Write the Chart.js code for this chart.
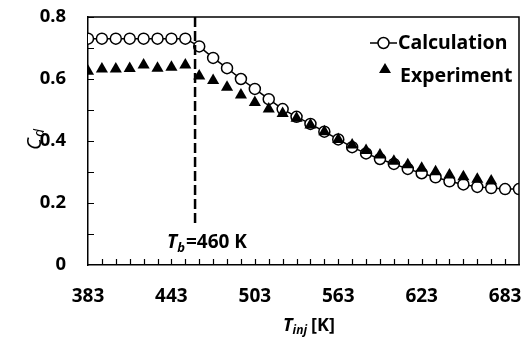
<!DOCTYPE html>
<html>
<head>
<meta charset="utf-8">
<script src="https://cdn.jsdelivr.net/npm/chart.js@4.4.0/dist/chart.umd.min.js"></script>
<style>
  html, body { margin: 0; padding: 0; background: #fff; }
  #wrap { width: 526px; height: 338px; }
</style>
</head>
<body>
<div id="wrap"><canvas id="chart" width="526" height="338"></canvas></div>
<script>
// injection temperature [K]
const temps = [383, 393, 403, 413, 423, 433, 443, 453, 463, 473, 483, 493, 503, 513, 523, 533,
  543, 553, 563, 573, 583, 593, 603, 613, 623, 633, 643, 653, 663, 673, 683, 693];

const calculation = [0.73, 0.73, 0.73, 0.73, 0.73, 0.73, 0.73, 0.73, 0.705, 0.668, 0.635, 0.60,
  0.568, 0.535, 0.503, 0.478, 0.455, 0.43, 0.405, 0.38, 0.36, 0.342, 0.326, 0.31, 0.296, 0.283,
  0.27, 0.26, 0.252, 0.248, 0.245, 0.245];

// experiment stops at 673 K
const experiment = [0.625, 0.632, 0.632, 0.634, 0.645, 0.635, 0.638, 0.645, 0.61, 0.595, 0.573,
  0.548, 0.524, 0.503, 0.489, 0.473, 0.452, 0.43, 0.405, 0.387, 0.369, 0.355, 0.335, 0.323, 0.312,
  0.301, 0.29, 0.285, 0.277, 0.271];

const xLabels = [383, 443, 503, 563, 623, 683];
const yLabels = [0, 0.2, 0.4, 0.6, 0.8];
const boilingT = 460;

const FONT = "'Noto Sans', 'Open Sans', sans-serif";

const calcPts = temps.map((t, i) => ({x: t, y: calculation[i]}));
const expPts = experiment.map((v, i) => ({x: temps[i], y: v}));

const decor = {
  id: 'decor',
  afterDatasetsDraw(chart) {
    const {ctx, chartArea: a, scales: {x, y}} = chart;
    ctx.save();
    ctx.strokeStyle = '#000';

    // frame top/right
    ctx.lineWidth = 1.5;
    ctx.beginPath();
    ctx.moveTo(a.left, a.top);
    ctx.lineTo(a.right, a.top);
    ctx.lineTo(a.right, a.bottom);
    ctx.stroke();

    // inside tick marks
    ctx.lineWidth = 1.2;
    ctx.beginPath();
    temps.forEach(t => {
      if (t === temps[0] || t === temps[temps.length - 1]) return;
      const px = Math.round(x.getPixelForValue(t)) + 0.5;
      ctx.moveTo(px, a.bottom);
      ctx.lineTo(px, a.bottom - 6);
    });
    for (let v = 0.1; v < 0.8; v += 0.1) {
      const py = Math.round(y.getPixelForValue(v)) + 0.5;
      ctx.moveTo(a.left, py);
      ctx.lineTo(a.left + 6, py);
    }
    ctx.stroke();

    // dashed line at boiling temperature
    const bx = x.getPixelForValue(boilingT);
    ctx.lineWidth = 2.5;
    ctx.setLineDash([10, 4]);
    ctx.beginPath();
    ctx.moveTo(bx, a.top);
    ctx.lineTo(bx, 226);
    ctx.stroke();
    ctx.setLineDash([]);

    ctx.fillStyle = '#000';
    ctx.textBaseline = 'middle';
    ctx.textAlign = 'left';

    // T_b=460 K
    let tx = bx - 28, ty = 243;
    ctx.font = 'italic bold 19px ' + FONT;
    ctx.fillText('T', tx, ty);
    tx += ctx.measureText('T').width;
    ctx.font = 'italic bold 13px ' + FONT;
    ctx.fillText('b', tx, ty + 5);
    tx += ctx.measureText('b').width + 1;
    ctx.font = 'bold 19px ' + FONT;
    ctx.fillText('=460 K', tx, ty);

    // x title
    ctx.font = 'italic bold 18px ' + FONT;
    tx = 283; ty = 326;
    ctx.fillText('T', tx, ty);
    tx += ctx.measureText('T').width;
    ctx.font = 'italic bold 12px ' + FONT;
    ctx.fillText('inj', tx, ty + 5);
    tx += ctx.measureText('inj').width + 4;
    ctx.font = 'bold 18px ' + FONT;
    ctx.fillText('[K]', tx, ty);

    // y title
    ctx.save();
    ctx.translate(35, 140);
    ctx.rotate(-Math.PI / 2);
    ctx.font = 'italic 20px ' + FONT;
    ctx.fillText('C', -10, 0);
    ctx.font = 'italic 14px ' + FONT;
    ctx.fillText('d', 3, 5);
    ctx.restore();

    // legend
    ctx.lineWidth = 1.5;
    ctx.beginPath();
    ctx.moveTo(370, 43);
    ctx.lineTo(397, 43);
    ctx.stroke();
    ctx.beginPath();
    ctx.arc(383.5, 43, 5.5, 0, Math.PI * 2);
    ctx.fillStyle = '#fff';
    ctx.fill();
    ctx.stroke();
    ctx.fillStyle = '#000';
    ctx.beginPath();
    ctx.moveTo(385, 63);
    ctx.lineTo(391, 73);
    ctx.lineTo(379, 73);
    ctx.closePath();
    ctx.fill();
    ctx.font = 'bold 19.5px ' + FONT;
    ctx.fillText('Calculation', 398, 43);
    ctx.fillText('Experiment', 400, 76);

    ctx.restore();
  }
};

new Chart(document.getElementById('chart'), {
  type: 'line',
  data: {
    datasets: [
      {
        label: 'Calculation',
        data: calcPts,
        borderColor: '#000',
        borderWidth: 1.5,
        backgroundColor: '#fff',
        pointStyle: 'circle',
        pointRadius: 5.5,
        pointBorderWidth: 1.5,
        pointBackgroundColor: '#fff',
        pointBorderColor: '#000',
        tension: 0,
        order: 1
      },
      {
        label: 'Experiment',
        data: expPts,
        showLine: false,
        pointStyle: 'triangle',
        pointRadius: 7,
        pointBorderWidth: 0,
        pointBackgroundColor: '#000',
        pointBorderColor: '#000',
        order: 0
      }
    ]
  },
  options: {
    responsive: false,
    animation: false,
    events: [],
    layout: { padding: { left: 0, top: 17, right: 5, bottom: 0 } },
    plugins: { legend: { display: false }, tooltip: { enabled: false } },
    scales: {
      x: {
        type: 'linear',
        min: temps[0],
        max: temps[temps.length - 1],
        afterBuildTicks: s => { s.ticks = xLabels.map(v => ({value: v})); },
        afterFit: s => { s.height = 73; s.paddingLeft = 0; s.paddingRight = 0; },
        grid: { display: false, drawTicks: false },
        border: { display: true, color: '#000', width: 1.5 },
        ticks: {
          autoSkip: false,
          maxRotation: 0,
          padding: 20,
          color: '#000',
          font: { family: FONT, size: 19, weight: 'bold' }
        }
      },
      y: {
        min: 0,
        max: 0.8,
        afterBuildTicks: s => { s.ticks = yLabels.map(v => ({value: v})); },
        afterFit: s => { s.width = 88; s.paddingTop = 0; s.paddingBottom = 0; },
        grid: { display: false, drawTicks: false },
        border: { display: true, color: '#000', width: 1.5 },
        ticks: {
          padding: 22,
          color: '#000',
          font: { family: FONT, size: 18.5, weight: 'bold' },
          callback: v => String(Math.round(v * 10) / 10)
        }
      }
    }
  },
  plugins: [decor]
});
</script>
</body>
</html>
